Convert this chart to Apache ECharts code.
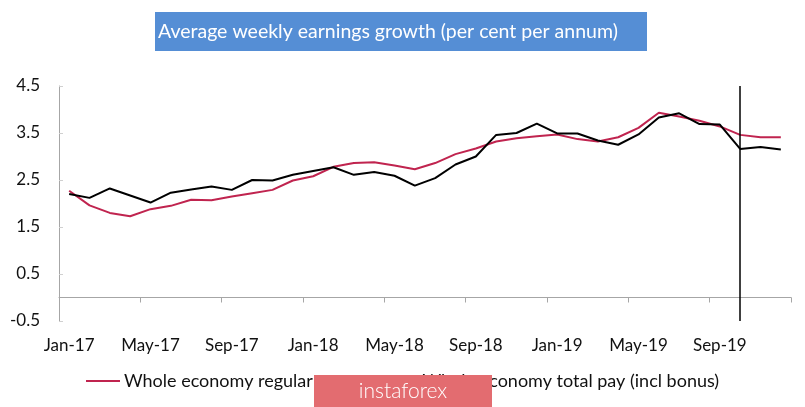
<!DOCTYPE html>
<html>
<head>
<meta charset="utf-8">
<script src="https://cdn.jsdelivr.net/npm/echarts@6/dist/echarts.min.js"></script>
<style>html,body{margin:0;padding:0;background:#fff}#c{width:805px;height:407px}</style>
</head>
<body>
<div id="c"></div>
<script>
var months = ['Jan-17','Feb-17','Mar-17','Apr-17','May-17','Jun-17','Jul-17','Aug-17','Sep-17','Oct-17','Nov-17','Dec-17',
              'Jan-18','Feb-18','Mar-18','Apr-18','May-18','Jun-18','Jul-18','Aug-18','Sep-18','Oct-18','Nov-18','Dec-18',
              'Jan-19','Feb-19','Mar-19','Apr-19','May-19','Jun-19','Jul-19','Aug-19','Sep-19','Oct-19','Nov-19','Dec-19'];
var regularPay = [2.27,1.96,1.80,1.73,1.88,1.95,2.08,2.07,2.15,2.22,2.29,2.49,
                  2.58,2.78,2.86,2.88,2.81,2.73,2.86,3.05,3.17,3.32,3.39,3.43,
                  3.47,3.37,3.32,3.41,3.61,3.93,3.85,3.76,3.64,3.46,3.41,3.41];
var totalPay = [2.20,2.12,2.32,2.17,2.02,2.23,2.30,2.36,2.29,2.50,2.49,2.61,
                2.69,2.77,2.61,2.67,2.59,2.38,2.54,2.83,3.00,3.46,3.50,3.70,
                3.49,3.49,3.34,3.25,3.47,3.83,3.92,3.69,3.68,3.16,3.20,3.15];
var markerMonth = 'Oct-19';
var titleText = 'Average weekly earnings growth (per cent per annum)';
var seriesNames = ['Whole economy regular pay', 'Whole economy total pay (incl bonus)'];

var chart = echarts.init(document.getElementById('c'), null, {renderer: 'canvas'});
var FONT = 'Lato';
chart.setOption({
  animation: false,
  backgroundColor: '#ffffff',
  grid: {left: 59, right: 14, top: 86, bottom: 86, containLabel: false},
  xAxis: {
    type: 'category',
    data: months,
    boundaryGap: true,
    axisLine: {onZero: true, lineStyle: {color: '#a6a6a6', width: 1}},
    axisTick: {show: true, interval: 3, length: 5, lineStyle: {color: '#a6a6a6'}},
    axisLabel: {interval: 3, margin: 16, color: '#111', fontSize: 17, fontFamily: FONT}
  },
  yAxis: {
    type: 'value',
    min: -0.5, max: 4.5, interval: 1,
    axisLine: {show: true, lineStyle: {color: '#a6a6a6', width: 1}},
    axisTick: {show: true, inside: true, length: 4, lineStyle: {color: '#d0d0d0'}},
    splitLine: {show: false},
    axisLabel: {color: '#111', fontSize: 17, fontFamily: FONT, margin: 19,
      formatter: function (v) { return v.toFixed(1); }}
  },
  legend: {
    left: 86, top: 372, padding: 0,
    itemWidth: 34, itemHeight: 2, itemGap: 39,
    icon: 'rect',
    textStyle: {color: '#111', fontSize: 18, fontFamily: FONT, padding: [0,0,0,-1]},
    data: seriesNames
  },
  series: [
    {name: seriesNames[0], type: 'line', data: regularPay, symbol: 'none',
     lineStyle: {color: '#c0244f', width: 2}, itemStyle: {color: '#c0244f'}, z: 2},
    {name: seriesNames[1], type: 'line', data: totalPay, symbol: 'none',
     lineStyle: {color: '#000000', width: 2}, itemStyle: {color: '#000000'}, z: 3,
     markLine: {silent: true, symbol: ['none', 'none'], label: {show: false},
       lineStyle: {color: '#000', width: 1.5, type: 'solid'},
       data: [{xAxis: markerMonth}]}}
  ],
  graphic: [
    {type: 'rect', shape: {x: 155, y: 12, width: 492, height: 39}, style: {fill: '#558ed5'}, z: 10},
    {type: 'text', left: 158, top: 22, style: {text: titleText, fill: '#ffffff', font: '19.5px ' + FONT}, z: 11},
    {type: 'rect', shape: {x: 314, y: 375, width: 178, height: 32}, style: {fill: '#e36c70'}, z: 20},
    {type: 'text', x: 403, y: 391, style: {text: 'instaforex', fill: '#ffffff', font: '300 21px ' + FONT, align: 'center', verticalAlign: 'middle'}, z: 21}
  ]
});
</script>
</body>
</html>
